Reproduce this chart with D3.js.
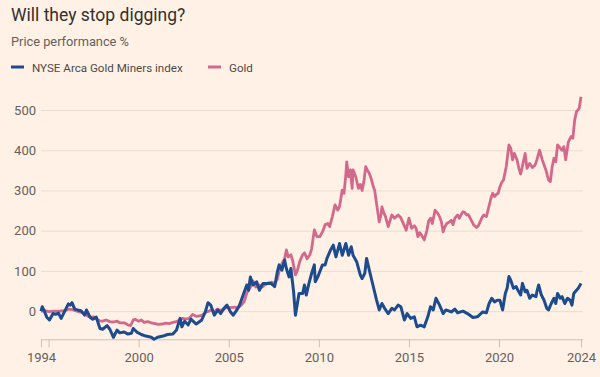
<!DOCTYPE html>
<html><head><meta charset="utf-8">
<script src="https://cdn.jsdelivr.net/npm/d3@7"></script>
<style>
html,body{margin:0;padding:0;background:#fff1e5;}
svg{display:block;font-family:Roboto,"Open Sans",sans-serif;}
</style></head>
<body><svg id="c" width="600" height="377"></svg>
<script>
const title = "Will they stop digging?";
const subtitle = "Price performance %";
const seriesNames = ["NYSE Arca Gold Miners index", "Gold"];
const yTicks = [0, 100, 200, 300, 400, 500];
const xTickYears = [1994.58, 1995, 2000, 2005, 2010, 2015, 2020, 2024.55];
const xTickLabels = ["1994", "", "2000", "2005", "2010", "2015", "2020", "2024"];

const goldYears = [1994.58,1994.8,1995.0,1995.3,1995.6,1995.9,1996.1,1996.3,1996.5,1996.7,1996.9,1997.1,1997.3,1997.5,1997.7,1997.85,1998.0,1998.2,1998.4,1998.6,1998.8,1998.95,1999.2,1999.4,1999.55,1999.7,1999.8,2000.0,2000.15,2000.3,2000.5,2000.7,2000.9,2001.1,2001.3,2001.5,2001.7,2001.9,2002.1,2002.3,2002.45,2002.6,2002.8,2003.0,2003.2,2003.4,2003.6,2003.75,2003.9,2004.05,2004.2,2004.35,2004.5,2004.7,2004.9,2005.1,2005.3,2005.5,2005.7,2005.85,2006.0,2006.2,2006.35,2006.5,2006.7,2006.85,2007.0,2007.2,2007.4,2007.55,2007.7,2007.8,2007.95,2008.1,2008.2,2008.3,2008.45,2008.55,2008.7,2008.8,2008.95,2009.1,2009.2,2009.35,2009.5,2009.6,2009.75,2009.9,2010.05,2010.2,2010.35,2010.5,2010.6,2010.75,2010.9,2011.05,2011.15,2011.3,2011.4,2011.5,2011.55,2011.65,2011.75,2011.85,2011.9,2012.05,2012.2,2012.3,2012.4,2012.5,2012.6,2012.7,2012.8,2012.9,2013.0,2013.1,2013.2,2013.35,2013.45,2013.5,2013.6,2013.7,2013.85,2013.95,2014.05,2014.2,2014.3,2014.4,2014.55,2014.65,2014.85,2015.0,2015.15,2015.3,2015.4,2015.5,2015.6,2015.7,2015.85,2016.0,2016.1,2016.2,2016.3,2016.45,2016.6,2016.7,2016.8,2016.9,2017.0,2017.1,2017.25,2017.35,2017.45,2017.55,2017.7,2017.8,2017.9,2018.0,2018.1,2018.2,2018.3,2018.4,2018.6,2018.75,2018.85,2018.95,2019.05,2019.15,2019.3,2019.45,2019.55,2019.65,2019.75,2019.85,2019.95,2020.05,2020.15,2020.25,2020.4,2020.55,2020.65,2020.75,2020.85,2021.0,2021.1,2021.2,2021.35,2021.45,2021.55,2021.7,2021.85,2022.0,2022.1,2022.25,2022.4,2022.6,2022.75,2022.85,2022.95,2023.05,2023.15,2023.25,2023.4,2023.5,2023.6,2023.7,2023.85,2024.0,2024.1,2024.2,2024.3,2024.45,2024.55];
const goldValues = [0,1,-1,0,0,1,5,4,1,-2,-4,-10,-15,-14,-21,-24,-25,-22,-26,-27,-25,-29,-29,-34,-36,-22,-20,-25,-22,-28,-26,-29,-31,-33,-32,-30,-31,-28,-26,-21,-18,-20,-18,-8,-13,-12,-8,-2,0,3,-2,5,2,4,10,9,10,8,15,23,45,60,75,60,65,60,65,70,72,68,80,100,118,130,152,135,140,125,90,100,125,140,145,130,140,155,202,185,185,197,215,218,210,235,264,251,260,301,293,340,371,334,351,305,351,334,305,315,300,322,359,350,342,330,313,300,268,222,240,259,245,235,210,225,239,231,235,239,232,222,201,231,206,212,206,185,195,189,177,201,225,231,218,251,243,235,222,197,210,218,222,226,215,231,239,231,240,247,245,239,240,231,214,208,212,222,232,239,235,262,280,293,285,290,293,309,320,326,359,413,405,376,392,376,355,341,371,392,355,367,357,363,376,400,376,351,326,322,359,380,371,413,405,400,409,376,421,434,430,475,496,504,533];

const minersYears = [1994.58,1994.65,1994.75,1994.9,1995.05,1995.25,1995.4,1995.55,1995.7,1995.9,1996.1,1996.2,1996.3,1996.45,1996.6,1996.8,1997.0,1997.1,1997.3,1997.45,1997.65,1997.85,1998.0,1998.25,1998.4,1998.6,1998.8,1998.95,1999.2,1999.4,1999.6,1999.7,1999.9,2000.15,2000.4,2000.7,2000.85,2001.05,2001.35,2001.6,2001.9,2002.1,2002.3,2002.4,2002.55,2002.75,2002.9,2003.2,2003.5,2003.7,2003.85,2004.0,2004.2,2004.4,2004.55,2004.75,2004.9,2005.1,2005.25,2005.45,2005.6,2005.8,2006.0,2006.1,2006.2,2006.35,2006.55,2006.7,2006.9,2007.15,2007.35,2007.55,2007.7,2007.8,2007.95,2008.1,2008.2,2008.35,2008.45,2008.6,2008.7,2008.9,2009.1,2009.2,2009.3,2009.45,2009.6,2009.75,2009.8,2009.95,2010.2,2010.35,2010.45,2010.65,2010.8,2010.95,2011.15,2011.3,2011.5,2011.65,2011.8,2011.9,2012.1,2012.3,2012.4,2012.55,2012.65,2012.8,2013.0,2013.2,2013.35,2013.5,2013.65,2013.85,2014.05,2014.2,2014.4,2014.55,2014.75,2014.9,2015.1,2015.3,2015.45,2015.65,2015.85,2016.05,2016.2,2016.35,2016.5,2016.7,2016.9,2017.05,2017.35,2017.55,2017.7,2018.0,2018.25,2018.55,2018.8,2019.1,2019.3,2019.45,2019.6,2019.75,2019.9,2020.05,2020.2,2020.35,2020.45,2020.55,2020.65,2020.8,2020.95,2021.05,2021.2,2021.3,2021.45,2021.55,2021.7,2021.85,2022.05,2022.1,2022.2,2022.35,2022.5,2022.65,2022.75,2022.9,2023.05,2023.15,2023.25,2023.4,2023.5,2023.65,2023.8,2023.95,2024.05,2024.15,2024.3,2024.4,2024.55];
const minersValues = [0,11,2,-15,-22,-6,-8,-5,-18,0,18,15,21,5,3,1,-10,3,-15,-20,-15,-43,-45,-36,-45,-65,-47,-54,-52,-57,-55,-43,-52,-58,-62,-65,-70,-65,-62,-58,-57,-47,-18,-39,-25,-34,-20,-32,-22,-2,21,15,-10,3,-6,8,15,-2,-10,3,15,40,65,52,85,65,73,52,69,69,69,61,98,115,102,127,106,85,106,48,-10,44,44,65,40,69,94,115,73,86,115,115,131,152,164,135,168,139,168,139,160,139,123,90,81,94,131,102,65,28,3,19,7,-6,7,3,15,11,-22,-6,-18,-14,-39,-35,-39,-14,11,3,32,15,-6,3,-2,5,-4,0,-6,-16,-14,-2,-4,19,32,23,27,27,3,44,57,86,77,57,61,52,40,69,48,52,32,40,36,48,65,40,27,7,3,19,32,19,44,32,36,19,32,27,15,44,52,57,69];

const colors = {bg:"#fff1e5", miners:"#1d4b8f", gold:"#d3688a", grid:"#e9ddd1", axis:"#cdc1b6", text:"#66605c", title:"#33302e"};

function toDate(y){
  const yr = Math.floor(y);
  const s = new Date(yr,0,1), e = new Date(yr+1,0,1);
  return new Date(s.getTime() + (y-yr)*(e-s));
}

const svg = d3.select("#c");
svg.append("rect").attr("width",600).attr("height",377).attr("fill",colors.bg);

const x = d3.scaleTime().domain([toDate(1994.58), toDate(2024.55)]).range([41, 581]);
const y = d3.scaleLinear().domain([-70, 500]).range([339.3, 110]);

// title
svg.append("text").attr("x",11).attr("y",21).attr("font-size",17.5).attr("fill",colors.title).text(title);
svg.append("text").attr("x",11).attr("y",46).attr("font-size",12.8).attr("fill",colors.text).text(subtitle);

// legend
const leg = [{name:seriesNames[0], c:colors.miners, x:11},{name:seriesNames[1], c:colors.gold, x:208}];
leg.forEach(l=>{
  svg.append("line").attr("x1",l.x).attr("x2",l.x+13).attr("y1",67).attr("y2",67).attr("stroke",l.c).attr("stroke-width",3);
  svg.append("text").attr("x",l.x+21).attr("y",71.5).attr("font-size",11.6).attr("fill","#4e4a47").text(l.name);
});

// grid + y axis
const yAxis = d3.axisLeft(y).tickValues(yTicks).tickSize(-542).tickFormat(d3.format("d"));
const gy = svg.append("g").attr("transform","translate(41,0)").call(yAxis);
gy.select(".domain").remove();
gy.selectAll(".tick line").attr("stroke",colors.grid).attr("stroke-width",1);
gy.selectAll(".tick text").attr("x",-5).attr("fill",colors.text).attr("font-size",13).attr("font-family","Roboto,'Open Sans',sans-serif");

// x axis
const xAxis = d3.axisBottom(x).tickValues(xTickYears.map(toDate)).tickSize(8).tickPadding(5)
  .tickFormat((d,i)=>xTickLabels[i]);
const gx = svg.append("g").attr("transform","translate(0,339.3)").call(xAxis);
gx.select(".domain").attr("d","M41,0.5H583").attr("stroke",colors.axis);
gx.selectAll(".tick line").attr("stroke",colors.axis);
gx.selectAll(".tick text").attr("fill",colors.text).attr("font-size",13).attr("font-family","Roboto,'Open Sans',sans-serif");

// lines
const line = d3.line().x(d=>x(toDate(d[0]))).y(d=>y(d[1])).curve(d3.curveLinear);
const gold = goldYears.map((t,i)=>[t,goldValues[i]]);
const miners = minersYears.map((t,i)=>[t,minersValues[i]]);
svg.append("path").datum(gold).attr("d",line).attr("fill","none").attr("stroke",colors.gold).attr("stroke-width",2.8).attr("stroke-linejoin","round");
svg.append("path").datum(miners).attr("d",line).attr("fill","none").attr("stroke",colors.miners).attr("stroke-width",3).attr("stroke-linejoin","round");
</script></body></html>
